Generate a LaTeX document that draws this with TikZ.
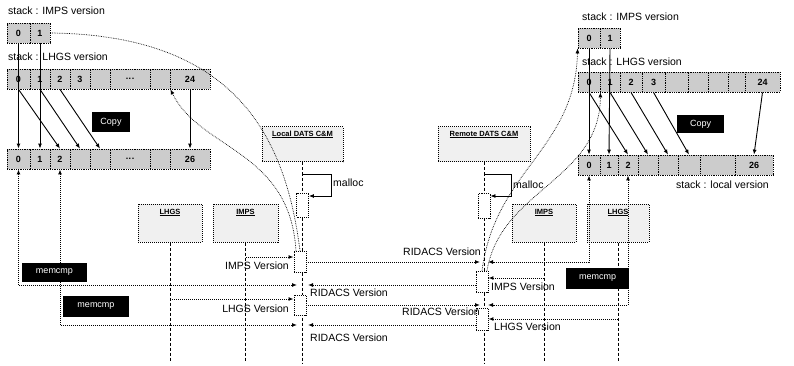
\documentclass[tikz,border=0pt]{standalone}
\usepackage{fontspec}
\setmainfont{Liberation Sans}
\usetikzlibrary{arrows.meta}
\newcommand\celldots{.\kern0.5pt.\kern0.5pt.}
\begin{document}
\begin{tikzpicture}[x=1pt,y=-1pt,
  cell/.style={draw, densely dotted, line width=0.8pt, fill=gray!40, minimum height=20pt, inner sep=0pt, font=\fontsize{9}{10}\selectfont\bfseries},
  arr/.style={-{Latex[length=5pt,width=4pt]}, line width=0.9pt},
  msg/.style={densely dotted, line width=1pt, -{Latex[length=5pt,width=4pt]}},
  msgb/.style={densely dotted, line width=1pt, {Latex[length=5pt,width=4pt]}-{Latex[length=5pt,width=4pt]}},
  life/.style={densely dashed, line width=0.9pt},
  lbox/.style={draw, densely dotted, line width=1pt, fill=gray!12, inner sep=0pt},
  ttl/.style={font=\fontsize{7.5}{8}\selectfont\bfseries, inner sep=0pt},
  act/.style={draw, densely dotted, line width=0.9pt, fill=white, minimum width=12pt, inner sep=0pt},
  blk/.style={fill=black, text=white, font=\fontsize{9}{10}\selectfont, inner sep=0pt},
  lab/.style={font=\fontsize{10.5}{12}\selectfont, inner sep=0pt},
  crv/.style={densely dotted, line width=0.7pt},
  self/.style={line width=0.8pt, -{Latex[length=5pt,width=4pt]}}
]
\useasboundingbox (0,0) rectangle (794,366);
\fill[white] (0,0) rectangle (794,366);

% ---------- left stacks ----------
\node[lab, anchor=west] (tLI) at (8,11) {stack : IMPS version};
\foreach \a/\b/\t [count=\i from 0] in {7/30/0,30/50/1}
  \node[cell, minimum width={\b-\a}] (li\i) at ({(\a+\b)/2},33) {\t};
\node[lab, anchor=west] (tLH) at (8,57) {stack : LHGS version};
\foreach \a/\b/\t [count=\i from 0] in {7/30/0,30/50/1,50/70/2,70/90/3,90/110/{},110/150/\celldots,150/170/{},170/210/24}
  \node[cell, minimum width={\b-\a}] (ll\i) at ({(\a+\b)/2},79) {\t};
\foreach \a/\b/\t [count=\i from 0] in {7/30/0,30/50/1,50/70/2,70/90/{},90/110/{},110/150/\celldots,150/170/{},170/210/26}
  \node[cell, minimum width={\b-\a}] (lb\i) at ({(\a+\b)/2},159) {\t};

\draw[arr] (li0.south) -- (lb0.north);
\draw[arr] (li1.south) -- (lb1.north);
\draw[arr] (ll0.south) -- (lb2.north);
\draw[arr] (ll1.south) -- (lb3.north);
\draw[arr] (ll2.south) -- (lb4.north);
\draw[arr] (ll7.south) -- (lb7.north);
\node[blk, minimum width=38pt, minimum height=20pt] (cpL) at (111,122) {Copy};

% ---------- right stacks ----------
\node[lab, anchor=west] (tRI) at (582,17) {stack : IMPS version};
\foreach \a/\b/\t [count=\i from 0] in {578/600/0,600/620/1}
  \node[cell, minimum width={\b-\a}] (ri\i) at ({(\a+\b)/2},38) {\t};
\node[lab, anchor=west] (tRH) at (582,62) {stack : LHGS version};
\foreach \a/\b/\t [count=\i from 0] in {578/600/0,600/620/1,620/642/2,642/665/3,665/688/{},688/708/{},708/728/{},728/745/{},745/780/24}
  \node[cell, minimum width={\b-\a}] (rh\i) at ({(\a+\b)/2},82) {\t};
\foreach \a/\b/\t [count=\i from 0] in {578/600/0,600/618/1,618/638/2,638/658/{},658/678/{},678/700/{},700/735/{},735/773/26}
  \node[cell, minimum width={\b-\a}] (rl\i) at ({(\a+\b)/2},165) {\t};
\node[lab, anchor=west] (tRL) at (676,185) {stack : local version};

\draw[arr] (ri0.south) -- (rl0.north);
\draw[arr] (ri1.south) -- (rl1.north);
\draw[arr] (rh0.south) -- (rl2.north);
\draw[arr] (rh1.south) -- (rl3.north);
\draw[arr] (rh2.south) -- (rl4.north);
\draw[arr] (rh3.south) -- (rl5.north);
\draw[arr] (rh8.south) -- (rl7.north);
\node[blk, minimum width=47pt, minimum height=18pt] (cpR) at (700.5,124) {Copy};

% ---------- lifeline heads ----------
\node[lbox, minimum width=81pt, minimum height=35pt] (locC) at (302.5,144.5) {};
\node[ttl] (locCt) at ([yshift=-8pt]locC.north) {\underline{Local DATS C\&M}};
\node[lbox, minimum width=92pt, minimum height=35pt] (remC) at (484,144.5) {};
\node[ttl] (remCt) at ([yshift=-8pt]remC.north) {\underline{Remote DATS C\&M}};
\node[lbox, minimum width=64pt, minimum height=38pt] (lhgsL) at (170,223) {};
\node[ttl] (lhgsLt) at ([yshift=-9pt]lhgsL.north) {\underline{LHGS}};
\node[lbox, minimum width=65pt, minimum height=38pt] (impsL) at (245.5,223) {};
\node[ttl] (impsLt) at ([yshift=-9pt]impsL.north) {\underline{IMPS}};
\node[lbox, minimum width=64pt, minimum height=38pt] (impsR) at (544,223) {};
\node[ttl] (impsRt) at ([yshift=-9pt]impsR.north) {\underline{IMPS}};
\node[lbox, minimum width=62pt, minimum height=38pt] (lhgsR) at (618,223) {};
\node[ttl] (lhgsRt) at ([yshift=-9pt]lhgsR.north) {\underline{LHGS}};

% lifelines
\coordinate (e1) at (170,362);
\coordinate (e2) at (245.5,362);
\coordinate (e3) at (302.5,364);
\coordinate (e4) at (484,364);
\coordinate (e5) at (544,362);
\coordinate (e6) at (618,362);
\draw[life] (lhgsL.south) -- (e1);
\draw[life] (impsL.south) -- (e2);
\draw[life] (locC.south) -- (e3);
\draw[life] (remC.south) -- (e4);
\draw[life] (impsR.south) -- (e5);
\draw[life] (lhgsR.south) -- (e6);

% ---------- curves ----------
\draw[crv] (li1.east) .. controls (230,35) and (285,130) .. (300,251);
\draw[crv, -{Latex[length=5pt,width=4pt]}] (296,251) .. controls (290,150) and (200,150) .. (ll6.south east);
\draw[crv, -{Latex[length=5pt,width=4pt]}] (482,271) .. controls (495,170) and (575,150) .. (ri0.south west);
\draw[crv, -{Latex[length=5pt,width=4pt]}] (487,271) .. controls (500,190) and (600,180) .. (rh0.south east);

% ---------- activations ----------
\node[act, minimum height=24pt] (actLm) at (302.5,205) {};
\node[act, minimum height=21pt] (actL1) at (300,261.5) {};
\node[act, minimum height=20pt] (actL2) at (300,305) {};
\node[act, minimum height=25pt] (actRm) at (484,206) {};
\node[act, minimum height=21pt] (actR1) at (482,281.5) {};
\node[act, minimum height=22pt] (actR2) at (482,319) {};

% malloc self messages
\coordinate (mL1) at (302.5,174); \coordinate (mL2) at (331,174); \coordinate (mL3) at (331,196);
\draw[self] (mL1) -- (mL2) -- (mL3) -- (mL3 -| actLm.east);
\node[lab, anchor=west] (mlL) at (333,183) {malloc};
\coordinate (mR1) at (484,174); \coordinate (mR2) at (511,174); \coordinate (mR3) at (511,196);
\draw[self] (mR1) -- (mR2) -- (mR3) -- (mR3 -| actRm.east);
\node[lab, anchor=west] (mlR) at (513,185) {malloc};

% ---------- messages ----------
\coordinate (p1) at (245.5,257);
\draw[msg] (p1) -- (p1 -| actL1.west);
\node[lab, anchor=east] (t1) at (289,266) {IMPS Version};
\coordinate (p2) at (480,262);
\draw[msg] (actL1.east |- p2) -- (p2);
\node[lab, anchor=east] (t2) at (481,252) {RIDACS Version};
\coordinate (p3) at (488,262);
\draw[msgb] (rl0.south) |- (p3);
\coordinate (p4) at (544,278);
\draw[msg] (p4) -- (p4 -| actR1.east);
\node[lab, anchor=west] (t4) at (491,287) {IMPS Version};
\coordinate (p5) at (308,285);
\draw[msg] (actR1.west |- p5) -- (p5);
\node[lab, anchor=west] (t5) at (310,293) {RIDACS Version};
\coordinate (p6) at (297,285);
\draw[msgb] (lb0.south) |- (p6);
\coordinate (p7) at (170,299);
\draw[msg] (p7) -- (p7 -| actL2.west);
\node[lab, anchor=east] (t7) at (289,309) {LHGS Version};
\coordinate (p8) at (480,305);
\draw[msg] (actL2.east |- p8) -- (p8);
\node[lab, anchor=east] (t8) at (480,312) {RIDACS Version};
\coordinate (p9) at (488,305);
\draw[msgb] (rl2.south) |- (p9);
\coordinate (p10) at (618,319);
\draw[msg] (p10) -- (p10 -| actR2.east);
\node[lab, anchor=west] (t10) at (494,327) {LHGS Version};
\coordinate (p11) at (308,325);
\draw[msg] (actR2.west |- p11) -- (p11);
\node[lab, anchor=west] (t11) at (310,338) {RIDACS Version};
\coordinate (p12) at (297,325);
\draw[msgb] (lb2.south) |- (p12);

% memcmp boxes
\node[blk, minimum width=65pt, minimum height=19pt] (mcL1) at (54.5,272.5) {memcmp};
\node[blk, minimum width=66pt, minimum height=21pt] (mcL2) at (96,306.5) {memcmp};
\node[blk, minimum width=63pt, minimum height=21pt] (mcR) at (597.5,278.5) {memcmp};
\end{tikzpicture}
\end{document}
